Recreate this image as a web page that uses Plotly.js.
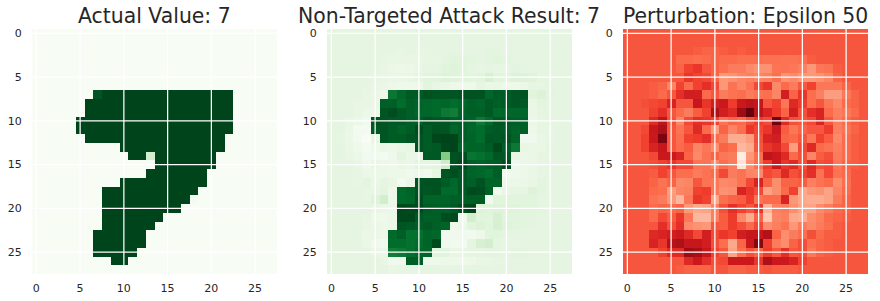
<!DOCTYPE html>
<html><head><meta charset="utf-8">
<script src="https://cdn.plot.ly/plotly-3.0.1.min.js"></script>
<style>html,body{margin:0;padding:0;background:#fff}#c{width:880px;height:301px}</style>
</head><body><div id="c"></div>
<script>
const titles = ["Actual Value: 7", "Non-Targeted Attack Result: 7", "Perturbation: Epsilon 50"];
const tickVals = [0, 5, 10, 15, 20, 25];

const actual = [
[0,0,0,0,0,0,0,0,0,0,0,0,0,0,0,0,0,0,0,0,0,0,0,0,0,0,0,0],
[0,0,0,0,0,0,0,0,0,0,0,0,0,0,0,0,0,0,0,0,0,0,0,0,0,0,0,0],
[0,0,0,0,0,0,0,0,0,0,0,0,0,0,0,0,0,0,0,0,0,0,0,0,0,0,0,0],
[0,0,0,0,0,0,0,0,0,0,0,0,0,0,0,0,0,0,0,0,0,0,0,0,0,0,0,0],
[0,0,0,0,0,0,0,0,0,0,0,0,0,0,0,0,0,0,0,0,0,0,0,0,0,0,0,0],
[0,0,0,0,0,0,0,0,0,0,0,0,0,0,0,0,0,0,0,0,0,0,0,0,0,0,0,0],
[0,0,0,0,0,0,0,0,0,0,0,0,0,0,0,0,0,0,0,0,0,0,0,0,0,0,0,0],
[0,0,0,0,0,0,0,90,100,100,100,100,100,100,100,100,100,100,100,100,100,100,100,0,0,0,0,0],
[0,0,0,0,0,0,100,100,100,100,100,100,100,100,100,100,100,100,100,100,100,100,100,0,0,0,0,0],
[0,0,0,0,0,0,100,100,100,100,100,100,100,100,100,100,100,100,100,100,100,100,100,0,0,0,0,0],
[0,0,0,0,0,100,100,100,100,100,100,100,100,100,100,100,100,100,100,100,100,100,100,0,0,0,0,0],
[0,0,0,0,0,100,100,100,100,100,100,100,100,100,100,100,100,100,100,100,100,100,100,0,0,0,0,0],
[0,0,0,0,0,0,100,100,100,100,100,100,100,100,100,100,100,100,100,100,100,100,0,0,0,0,0,0],
[0,0,0,0,0,0,0,0,0,0,100,100,100,100,100,100,100,100,100,100,100,100,0,0,0,0,0,0],
[0,0,0,0,0,0,0,0,0,0,0,100,100,20,100,100,100,100,100,100,100,0,0,0,0,0,0,0],
[0,0,0,0,0,0,0,0,0,0,0,0,0,0,100,100,100,100,100,100,100,0,0,0,0,0,0,0],
[0,0,0,0,0,0,0,0,0,0,0,0,0,100,100,100,100,100,100,100,0,0,0,0,0,0,0,0],
[0,0,0,0,0,0,0,0,0,0,100,100,100,100,100,100,100,100,100,100,0,0,0,0,0,0,0,0],
[0,0,0,0,0,0,0,0,100,100,100,100,100,100,100,100,100,100,100,0,0,0,0,0,0,0,0,0],
[0,0,0,0,0,0,0,0,100,100,100,100,100,100,100,100,100,100,2,0,0,0,0,0,0,0,0,0],
[0,0,0,0,0,0,0,0,100,100,100,100,100,100,100,100,100,0,0,0,0,0,0,0,0,0,0,0],
[0,0,0,0,0,0,0,0,100,100,100,100,100,100,100,0,0,0,0,0,0,0,0,0,0,0,0,0],
[0,0,0,0,0,0,0,0,100,100,100,100,100,100,0,0,0,0,0,0,0,0,0,0,0,0,0,0],
[0,0,0,0,0,0,0,100,100,100,100,100,100,0,0,0,0,0,0,0,0,0,0,0,0,0,0,0],
[0,0,0,0,0,0,0,100,100,100,100,100,100,0,0,0,0,0,0,0,0,0,0,0,0,0,0,0],
[0,0,0,0,0,0,0,100,100,100,100,100,0,0,0,0,0,0,0,0,0,0,0,0,0,0,0,0],
[0,0,0,0,0,0,0,0,0,100,100,0,0,0,0,0,0,0,0,0,0,0,0,0,0,0,0,0],
[0,0,0,0,0,0,0,0,0,0,0,0,0,0,0,0,0,0,0,0,0,0,0,0,0,0,0,0]
];

const attacked = [
[12,12,12,12,12,12,12,12,12,12,12,12,12,12,12,12,12,12,12,12,12,12,12,12,12,12,12,12],
[12,12,12,12,12,12,12,12,12,12,12,12,12,12,12,12,12,12,12,12,12,12,12,12,12,12,12,12],
[12,12,12,12,12,12,12,12,11,12,11,11,12,12,12,12,12,12,13,13,12,12,12,12,12,12,12,12],
[12,12,12,12,12,12,11,10,10,10,10,11,11,13,14,14,13,12,13,14,13,12,12,12,12,12,12,12],
[12,12,12,12,12,12,10,8,7,8,10,12,12,14,15,14,12,11,12,11,11,13,12,12,12,12,12,12],
[12,12,12,12,12,11,10,9,9,10,12,14,14,16,15,14,13,14,18,14,14,16,16,15,12,12,12,12],
[12,12,12,12,11,10,9,7,6,6,7,13,10,9,7,6,6,11,8,9,6,6,8,11,11,12,12,12],
[12,12,12,12,10,9,7,71,80,87,87,92,90,90,90,92,92,92,80,86,86,90,92,14,16,13,12,12],
[12,12,12,10,10,9,84,84,76,84,82,80,78,80,76,80,84,82,88,84,86,90,88,9,13,12,12,12],
[12,12,12,10,8,8,90,94,88,84,80,80,78,70,68,82,84,84,88,78,80,80,80,9,12,12,12,12],
[12,12,9,8,5,92,90,88,88,84,84,92,90,90,84,84,82,70,78,90,88,84,84,8,11,12,12,12],
[12,12,9,3,3,88,90,86,82,86,96,86,92,90,80,84,80,76,86,88,86,82,84,7,11,11,12,12],
[12,11,8,4,0,10,90,86,86,90,92,86,98,100,100,84,82,76,90,88,90,82,5,5,9,11,12,12],
[12,12,9,6,3,6,8,7,9,11,92,86,88,98,100,80,82,82,86,98,84,70,10,9,10,12,12,12],
[12,12,10,8,4,4,3,6,13,9,9,88,88,42,92,94,72,74,78,90,88,10,8,9,11,12,12,12],
[12,12,12,10,6,10,8,7,10,9,14,12,13,22,92,96,84,82,84,86,94,5,8,9,11,12,12,12],
[12,12,12,11,8,8,8,7,7,5,7,5,10,90,94,88,82,80,76,84,4,6,7,9,11,12,12,12],
[12,12,12,11,13,9,12,10,4,8,92,92,92,86,80,88,84,92,82,82,7,8,8,10,13,12,12,12],
[12,12,12,12,11,11,13,7,78,82,92,90,92,78,78,88,96,94,84,4,10,12,12,15,13,12,12,12],
[12,12,12,12,11,15,20,7,78,80,94,82,82,82,84,84,86,86,4,14,14,14,14,14,12,12,12,12],
[12,12,12,12,12,11,9,8,98,96,96,86,84,84,88,96,100,15,14,15,15,15,14,14,13,12,12,12],
[12,12,12,12,11,7,6,8,98,98,88,84,84,94,96,6,20,14,14,18,14,14,13,13,12,12,12,12],
[12,12,12,12,10,9,7,8,90,88,84,88,84,82,6,8,14,16,14,18,15,14,13,13,12,12,12,12],
[12,12,12,12,8,9,7,78,84,74,74,82,80,5,5,5,4,7,14,14,13,12,12,12,12,12,12,12],
[12,12,12,12,9,6,4,76,76,74,76,82,96,5,4,4,12,18,20,12,11,11,12,12,12,12,12,12],
[12,12,12,12,12,10,8,68,70,74,80,80,14,14,10,11,12,12,13,13,12,14,14,12,12,12,12,12],
[12,12,12,12,12,12,10,5,6,84,84,6,6,7,7,6,7,10,10,11,11,12,12,12,12,12,12,12],
[12,12,12,12,12,12,12,10,11,11,12,12,12,12,12,12,12,12,12,12,12,12,12,12,12,12,12,12]
];

const perturbation = [
[56,56,56,56,56,56,56,56,56,56,56,56,56,56,56,56,56,56,56,56,56,56,56,56,56,56,56,56],
[56,56,56,56,56,56,56,56,56,56,56,56,56,56,56,56,56,56,56,56,56,56,56,56,56,56,56,56],
[56,56,56,56,56,56,56,56,54,52,52,54,56,54,56,56,56,56,56,56,56,56,56,56,56,56,56,56],
[56,56,56,56,56,56,50,50,48,50,52,50,50,48,48,48,47,47,46,46,48,54,56,56,56,56,56,56],
[56,56,56,56,56,56,52,62,66,56,52,48,42,42,36,32,32,45,46,44,40,30,44,46,54,56,56,56],
[56,56,56,56,56,56,56,66,62,60,52,30,32,38,40,38,40,48,32,36,30,30,32,38,52,56,56,56],
[56,56,56,54,52,38,62,50,62,68,60,30,46,38,46,60,66,36,50,42,55,62,44,44,44,52,56,56],
[56,56,56,54,50,56,68,74,74,50,56,42,46,48,42,46,48,38,74,52,66,48,40,28,28,44,52,56],
[56,56,58,60,62,72,56,56,78,66,74,76,64,76,80,78,56,62,44,70,64,48,56,44,36,50,52,56],
[56,56,56,62,68,56,50,42,54,62,86,74,70,90,100,80,72,64,52,74,58,68,72,50,40,44,50,56],
[56,56,56,70,80,58,38,60,68,66,62,46,52,50,58,64,60,98,70,58,56,60,72,56,42,50,54,56],
[56,56,60,78,86,56,46,56,70,50,28,52,38,48,66,60,66,76,54,44,52,56,56,64,40,46,52,56],
[56,56,62,76,96,56,48,62,64,68,50,42,22,22,28,58,72,74,52,50,56,44,62,54,36,50,54,56],
[56,56,62,72,78,56,50,54,38,44,34,52,48,18,22,56,66,70,60,28,60,70,50,46,40,50,54,56],
[56,56,56,60,76,76,72,52,36,46,52,44,42,4,30,48,80,76,70,50,58,38,54,58,42,50,54,56],
[56,56,56,58,62,66,60,60,46,46,36,48,42,8,34,48,64,76,66,70,58,70,58,60,44,52,54,56],
[56,56,56,54,62,56,48,48,42,46,50,60,42,46,38,36,60,56,70,58,62,68,46,60,46,50,56,56],
[56,56,56,52,46,52,36,38,56,46,44,36,38,46,60,72,52,34,52,52,54,40,46,50,34,48,56,56],
[56,56,56,50,48,28,38,40,62,64,44,32,34,72,66,60,26,34,50,62,24,30,32,26,38,50,56,56],
[56,56,56,46,42,30,18,44,66,62,24,48,52,54,64,46,50,50,72,30,24,22,22,26,42,52,56,56],
[56,56,56,50,52,50,52,30,24,26,40,58,68,62,56,66,20,40,42,34,26,26,36,42,50,52,56,56],
[56,56,56,50,60,54,66,44,18,18,40,54,64,36,22,52,14,38,40,24,22,34,40,50,52,54,56,56],
[56,56,56,56,68,58,68,36,32,30,56,54,64,58,50,60,34,40,46,30,42,36,42,48,54,56,56,56],
[56,56,56,70,72,74,76,70,60,74,60,66,62,74,78,78,84,52,34,42,48,58,50,54,54,56,56,56],
[56,56,56,72,66,84,86,78,78,74,58,48,24,52,76,94,62,42,34,52,58,48,52,54,56,56,56,56],
[56,56,56,56,62,70,70,90,88,78,62,56,26,48,58,52,64,56,68,56,58,44,52,54,56,56,56,56],
[56,56,56,56,56,56,56,70,76,68,58,60,76,76,76,66,86,76,76,72,62,56,56,56,56,56,56,56],
[56,56,56,56,56,56,54,52,52,52,56,56,52,52,54,54,56,54,54,54,56,56,56,56,56,56,56,56]
];

const greens = [[0,"#f7fcf5"],[0.125,"#e5f5e0"],[0.25,"#c7e9c0"],[0.36,"#a1d99b"],[0.45,"#74c476"],[0.52,"#41ab5d"],[0.6,"#238b45"],[0.76,"#006d2c"],[1,"#00441b"]];
const reds = [[0,"#fff5f0"],[0.09,"#fee0d2"],[0.17,"#fcbba1"],[0.32,"#fc9272"],[0.5,"#fb6a4a"],[0.64,"#ef3b2c"],[0.76,"#cb181d"],[0.88,"#a50f15"],[1,"#67000d"]];

const W = 880, H = 301, AXTOP = 29, AXBOT = 274;
const panels = [
  {z: actual, cs: greens, left: 32},
  {z: attacked, cs: greens, left: 327},
  {z: perturbation, cs: reds, left: 623}
];
const size = 245;
const data = [], shapes = [], annotations = [];
const layout = {
  width: W, height: H,
  margin: {l: 0, r: 0, t: 0, b: 0},
  paper_bgcolor: "#fff", plot_bgcolor: "#fff",
  font: {family: "DejaVu Sans", color: "#262626", size: 11},
  showlegend: false
};
panels.forEach((p, i) => {
  const s = i === 0 ? "" : String(i + 1);
  data.push({type: "heatmap", z: p.z, xaxis: "x" + s, yaxis: "y" + s,
    colorscale: p.cs, zmin: 0, zmax: 100, showscale: false, zsmooth: false, hoverinfo: "skip", xgap: 0, ygap: 0});
  const common = {tickmode: "array", tickvals: tickVals, ticktext: tickVals.map(String),
    showgrid: false, zeroline: false, showline: false, ticks: "outside", tickcolor: "rgba(0,0,0,0)", tickwidth: 1,
    tickfont: {family: "DejaVu Sans", size: 11, color: "#262626"}};
  layout["xaxis" + s] = Object.assign({}, common, {ticklen: 4, domain: [p.left / W, (p.left + size) / W], range: [-0.5, 27.5], anchor: "y" + s});
  layout["yaxis" + s] = Object.assign({}, common, {ticklen: 7, domain: [1 - AXBOT / H, 1 - AXTOP / H], range: [27.5, -0.5], anchor: "x" + s});
  tickVals.forEach(t => {
    const ln = {color: "#fff", width: 1.25};
    shapes.push({type: "line", layer: "above", xref: "x" + s, yref: "y" + s, x0: t, x1: t, y0: -0.5, y1: 27.5, line: ln});
    shapes.push({type: "line", layer: "above", xref: "x" + s, yref: "y" + s, x0: -0.5, x1: 27.5, y0: t, y1: t, line: ln});
  });
  annotations.push({text: titles[i], xref: "paper", yref: "paper", x: (p.left + size / 2) / W, y: 1 - 22 / H,
    xanchor: "center", yanchor: "bottom", yshift: -8, showarrow: false,
    font: {family: "DejaVu Sans", size: 20.4, color: "#262626"}});
});
layout.shapes = shapes;
layout.annotations = annotations;
Plotly.newPlot("c", data, layout, {displayModeBar: false, staticPlot: true});
</script>
</body></html>
